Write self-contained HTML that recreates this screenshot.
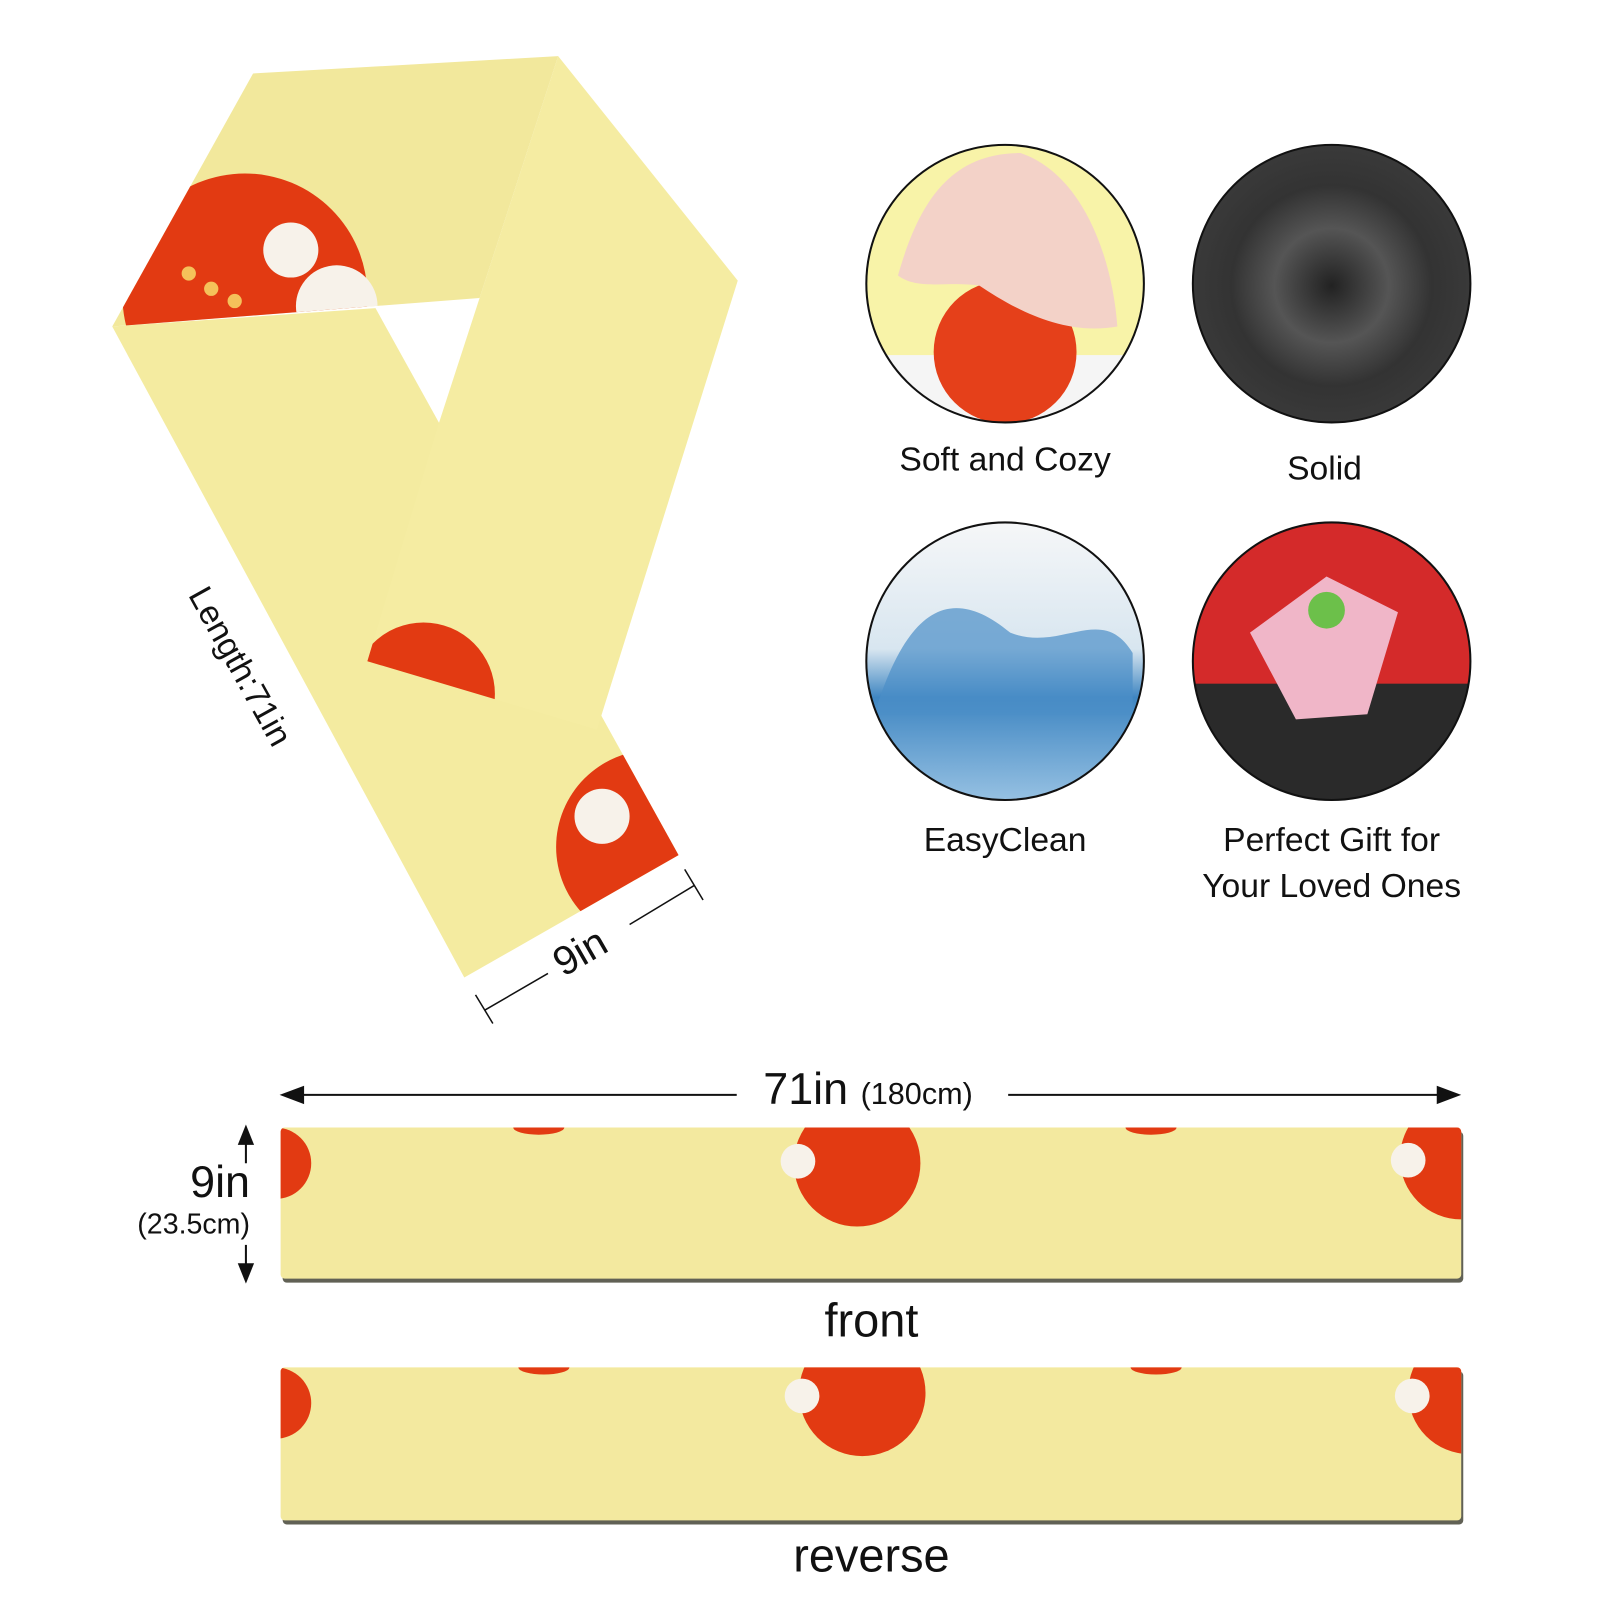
<!DOCTYPE html>
<html><head><meta charset="utf-8"><style>
html,body{margin:0;padding:0;background:#fff;}
svg{display:block;}
text{font-family:"Liberation Sans","DejaVu Sans",sans-serif;fill:#111;}
</style></head><body>
<svg width="1600" height="1600" viewBox="0 0 1568 1568" xmlns="http://www.w3.org/2000/svg">
<defs>
<clipPath id="ctop"><polygon points="248,72 547,55 470,292 110,320"/></clipPath>
<clipPath id="cleft"><polygon points="110,320 368,302 665,838 455,958"/></clipPath>
<clipPath id="cright"><polygon points="547,55 723,275 585,715 360,648 430,415 470,292"/></clipPath>
<clipPath id="cf"><rect x="275" y="1105" width="1157" height="148" rx="4"/></clipPath>
<clipPath id="cr"><rect x="275" y="1340" width="1157" height="150" rx="4"/></clipPath>
<clipPath id="c1"><circle cx="985" cy="278" r="136"/></clipPath>
<clipPath id="c2"><circle cx="1305" cy="278" r="136"/></clipPath>
<clipPath id="c3"><circle cx="985" cy="648" r="136"/></clipPath>
<clipPath id="c4"><circle cx="1305" cy="648" r="136"/></clipPath>
<radialGradient id="towel" cx="0.5" cy="0.5" r="0.5"><stop offset="0" stop-color="#222"/><stop offset="0.4" stop-color="#555"/><stop offset="0.7" stop-color="#333"/><stop offset="1" stop-color="#3a3a3a"/></radialGradient>
<linearGradient id="water" x1="0" y1="0" x2="0" y2="1"><stop offset="0" stop-color="#f6f7f8"/><stop offset="0.45" stop-color="#d8e6f0"/><stop offset="0.62" stop-color="#3f86c2"/><stop offset="1" stop-color="#9bc4e4"/></linearGradient>
</defs>

<polygon points="110,320 368,302 665,838 455,958" fill="#f4eba0"/>
<g clip-path="url(#cleft)">
 <circle cx="640" cy="830" r="95" fill="#e23a12"/>
 <circle cx="590" cy="800" r="27" fill="#f7f2ea"/>
</g>
<polygon points="248,72 547,55 470,292 110,320" fill="#f2e89c"/>
<g clip-path="url(#ctop)">
 <circle cx="240" cy="290" r="120" fill="#e23a12"/>
 <circle cx="285" cy="245" r="27" fill="#f7f2ea"/>
 <circle cx="185" cy="268" r="7" fill="#f5c15a"/><circle cx="207" cy="283" r="7" fill="#f5c15a"/><circle cx="230" cy="295" r="7" fill="#f5c15a"/>
 <circle cx="330" cy="300" r="40" fill="#f7f2ea"/>
</g>
<polygon points="547,55 723,275 585,715 360,648 430,415 470,292" fill="#f5eca2"/>
<g clip-path="url(#cright)">
 <circle cx="415" cy="680" r="70" fill="#e23a12"/>
</g>

<text transform="translate(184,583) rotate(61)" font-size="33">Length:71in</text>
<g stroke="#111" stroke-width="1.5" fill="none">
 <line x1="475" y1="990" x2="537" y2="954"/>
 <line x1="617" y1="906" x2="680" y2="868"/>
 <line x1="466" y1="975" x2="483" y2="1003"/>
 <line x1="671" y1="852" x2="689" y2="882"/>
</g>
<text transform="translate(552,958) rotate(-30)" font-size="40">9in</text>

<g clip-path="url(#c1)">
 <rect x="840" y="130" width="300" height="300" fill="#f8f3a8"/>
 <rect x="840" y="348" width="300" height="90" fill="#f5f5f5"/>
 <circle cx="985" cy="345" r="70" fill="#e5401a"/>
 <path d="M880,270 C900,200 930,150 1000,150 C1060,170 1090,250 1095,320 C1040,330 990,300 960,280 C930,275 900,285 880,270Z" fill="#f3d2c8"/>
</g>
<circle cx="985" cy="278" r="136" fill="none" stroke="#111" stroke-width="2"/>
<g clip-path="url(#c2)"><rect x="1165" y="140" width="280" height="280" fill="url(#towel)"/></g>
<circle cx="1305" cy="278" r="136" fill="none" stroke="#111" stroke-width="2"/>
<g clip-path="url(#c3)"><rect x="845" y="510" width="280" height="280" fill="url(#water)"/>
 <path d="M860,690 C890,600 930,570 990,620 C1040,640 1080,590 1110,640 L1110,700 L860,700Z" fill="#4b8ec8" opacity="0.7"/></g>
<circle cx="985" cy="648" r="136" fill="none" stroke="#111" stroke-width="2"/>
<g clip-path="url(#c4)">
 <rect x="1165" y="510" width="280" height="280" fill="#d42a2a"/>
 <rect x="1165" y="670" width="280" height="120" fill="#2a2a2a"/>
 <polygon points="1225,620 1300,565 1370,600 1340,700 1270,705" fill="#f0b6c8"/>
 <circle cx="1300" cy="598" r="18" fill="#6cc04a"/>
</g>
<circle cx="1305" cy="648" r="136" fill="none" stroke="#111" stroke-width="2"/>

<text x="985" y="461" font-size="33" text-anchor="middle">Soft and Cozy</text>
<text x="1298" y="470" font-size="33" text-anchor="middle">Solid</text>
<text x="985" y="834" font-size="33" text-anchor="middle">EasyClean</text>
<text x="1305" y="834" font-size="33" text-anchor="middle">Perfect Gift for</text>
<text x="1305" y="879" font-size="33" text-anchor="middle">Your Loved Ones</text>

<g stroke="#111" stroke-width="2">
 <line x1="290" y1="1073" x2="722" y2="1073"/>
 <line x1="988" y1="1073" x2="1416" y2="1073"/>
</g>
<polygon points="274,1073 298,1064 298,1082" fill="#111"/>
<polygon points="1432,1073 1408,1064 1408,1082" fill="#111"/>
<text x="748" y="1082" font-size="44">71in <tspan font-size="30">(180cm)</tspan></text>

<line x1="241" y1="1118" x2="241" y2="1140" stroke="#111" stroke-width="2"/>
<polygon points="241,1102 233,1122 249,1122" fill="#111"/>
<line x1="241" y1="1220" x2="241" y2="1242" stroke="#111" stroke-width="2"/>
<polygon points="241,1258 233,1238 249,1238" fill="#111"/>
<text x="245" y="1173" font-size="44" text-anchor="end">9in</text>
<text x="245" y="1209" font-size="28" text-anchor="end">(23.5cm)</text>

<rect x="277" y="1109" width="1157" height="148" rx="4" fill="#3a3a2a" opacity="0.8"/>
<rect x="275" y="1105" width="1157" height="148" rx="4" fill="#f3e99f"/>
<g clip-path="url(#cf)" fill="#e23a12">
 <circle cx="270" cy="1140" r="35"/>
 <circle cx="840" cy="1140" r="62"/><circle cx="782" cy="1138" r="17" fill="#f7f2ea"/>
 <circle cx="1432" cy="1135" r="60"/><circle cx="1380" cy="1137" r="17" fill="#f7f2ea"/>
 <ellipse cx="528" cy="1105" rx="25" ry="7"/><ellipse cx="1128" cy="1105" rx="25" ry="7"/>
</g>
<text x="854" y="1310" font-size="46" text-anchor="middle">front</text>

<rect x="277" y="1344" width="1157" height="150" rx="4" fill="#3a3a2a" opacity="0.8"/>
<rect x="275" y="1340" width="1157" height="150" rx="4" fill="#f3e99f"/>
<g clip-path="url(#cr)" fill="#e23a12">
 <circle cx="270" cy="1375" r="35"/>
 <circle cx="845" cy="1365" r="62"/><circle cx="786" cy="1368" r="17" fill="#f7f2ea"/>
 <circle cx="1440" cy="1365" r="60"/><circle cx="1384" cy="1368" r="17" fill="#f7f2ea"/>
 <ellipse cx="533" cy="1340" rx="25" ry="7"/><ellipse cx="1133" cy="1340" rx="25" ry="7"/>
</g>
<text x="854" y="1540" font-size="46" text-anchor="middle">reverse</text>
</svg>
</body></html>
